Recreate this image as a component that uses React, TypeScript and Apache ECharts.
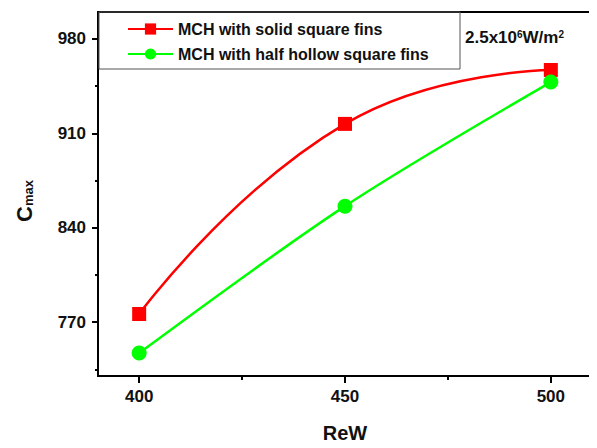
import React, { useEffect, useRef } from "react";
import * as echarts from "echarts";

const reW = [400, 450, 500];
const solidFins = [776, 917, 957];
const halfHollowFins = [747, 856, 948];
const yMajorTicks = [770, 840, 910, 980];
const yMinorTicks = [735, 805, 875, 945];
const xMajorTicks = [400, 450, 500];
const xMinorTicks = [425, 475];
const seriesNames = ["MCH with solid square fins", "MCH with half hollow square fins"];

const FONT = "'Liberation Sans', Arial, sans-serif";

export default function App() {
  const ref = useRef<HTMLDivElement>(null);
  useEffect(() => {
    if (!ref.current) return;
    const chart = echarts.init(ref.current, null, { renderer: "svg" });
    const axisLine = { show: true, lineStyle: { color: "#000", width: 2 } };
    chart.setOption({
      animation: false,
      backgroundColor: "#fff",
      textStyle: { fontFamily: FONT },
      grid: {
        left: 98,
        right: 5,
        top: 12,
        bottom: 69,
        show: true,
        borderColor: "#000",
        borderWidth: 2,
      },
      legend: {
        left: 122,
        top: 16,
        orient: "vertical",
        itemWidth: 45,
        itemHeight: 14,
        itemGap: 9,
        data: seriesNames,
        textStyle: { fontFamily: FONT, fontWeight: "bold", fontSize: 16, color: "#111" },
      },
      xAxis: [
        {
          type: "value",
          min: 390,
          max: 510,
          name: "ReW",
          nameLocation: "middle",
          nameGap: 47,
          nameTextStyle: { fontFamily: FONT, fontWeight: "bold", fontSize: 20, color: "#111" },
          axisLine,
          splitLine: { show: false },
          axisTick: { show: true, customValues: xMajorTicks, inside: false, length: 7, lineStyle: { color: "#000", width: 2 } },
          axisLabel: { customValues: xMajorTicks, fontFamily: FONT, fontWeight: "bold", fontSize: 17, color: "#111", margin: 12 },
        },
        {
          type: "value",
          min: 390,
          max: 510,
          position: "bottom",
          axisLine: { show: false },
          splitLine: { show: false },
          axisLabel: { show: false },
          axisTick: { show: true, customValues: xMinorTicks, length: 4, lineStyle: { color: "#000", width: 2 } },
        },
      ],
      yAxis: [
        {
          type: "value",
          min: 730,
          max: 1000,
          name: "{c|C}{s|max}",
          nameLocation: "middle",
          nameRotate: 90,
          nameGap: 63,
          nameTextStyle: {
            rich: {
              c: { fontFamily: FONT, fontWeight: "bold", fontSize: 22, color: "#111", verticalAlign: "bottom" },
              s: { fontFamily: FONT, fontWeight: "bold", fontSize: 13, color: "#111", verticalAlign: "bottom", padding: [0, 14, 0, 0] },
            },
          },
          axisLine,
          splitLine: { show: false },
          axisTick: { show: true, customValues: yMajorTicks, length: 6, lineStyle: { color: "#000", width: 2 } },
          axisLabel: { customValues: yMajorTicks, fontFamily: FONT, fontWeight: "bold", fontSize: 17, color: "#111", margin: 12 },
        },
        {
          type: "value",
          min: 730,
          max: 1000,
          position: "left",
          axisLine: { show: false },
          splitLine: { show: false },
          axisLabel: { show: false },
          axisTick: { show: true, customValues: yMinorTicks, length: 3, lineStyle: { color: "#000", width: 2 } },
        },
      ],
      graphic: [
        {
          type: "rect",
          shape: { x: 99, y: 12, width: 361, height: 57 },
          style: { fill: "none", stroke: "#555", lineWidth: 1 },
          z: 10,
        },
        {
          type: "text",
          x: 465,
          y: 29,
          style: {
            text: "{n|2.5x10}{p|6}{n|W/m}{p|2}",
            rich: {
              n: { fontFamily: FONT, fontWeight: "bold", fontSize: 17, fill: "#111", verticalAlign: "bottom" },
              p: { fontFamily: FONT, fontWeight: "bold", fontSize: 10, fill: "#111", verticalAlign: "top" },
            },
          },
          z: 10,
        },
      ],
      series: [
        {
          name: seriesNames[0],
          type: "line",
          data: reW.map((x, i) => [x, solidFins[i]]),
          smooth: 0.5,
          symbol: "rect",
          symbolSize: 14,
          itemStyle: { color: "#ff0000" },
          lineStyle: { color: "#ff0000", width: 2.5 },
        },
        {
          name: seriesNames[1],
          type: "line",
          data: reW.map((x, i) => [x, halfHollowFins[i]]),
          smooth: 0.3,
          symbol: "circle",
          symbolSize: 15,
          itemStyle: { color: "#00ff00" },
          lineStyle: { color: "#00ff00", width: 2.5 },
        },
      ],
    });
    return () => chart.dispose();
  }, []);
  return <div ref={ref} style={{ width: 597, height: 448, margin: -8 }} />;
}
